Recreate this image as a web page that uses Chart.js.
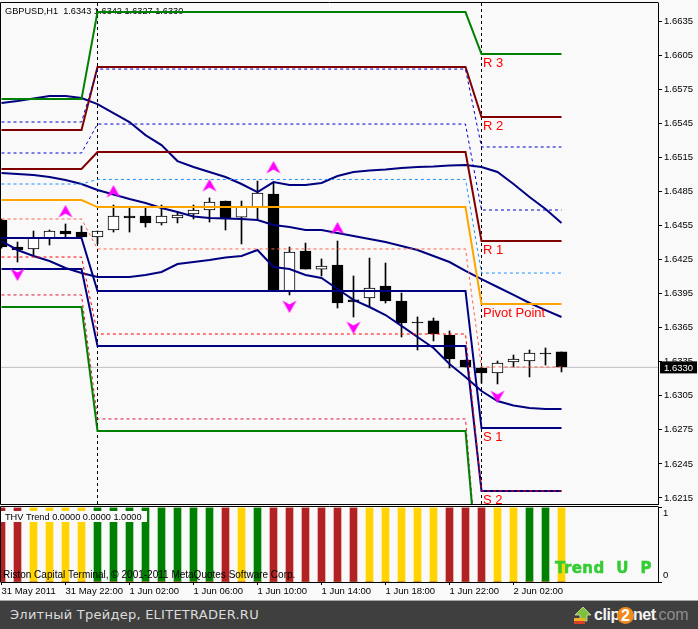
<!DOCTYPE html>
<html><head><meta charset="utf-8">
<style>
html,body{margin:0;padding:0;background:#f9f9f9;width:698px;height:629px;overflow:hidden}
canvas{position:absolute;left:0;display:block}
#footer{position:absolute;left:0;top:600px;width:698px;height:29px;background:#3f3f3f;border-top:1px solid #a8a8a8;box-sizing:border-box}
#footer span{position:absolute;white-space:nowrap}
</style>
<script src="https://cdn.jsdelivr.net/npm/chart.js@4"></script>
</head><body>
<canvas id="main" width="698" height="505" style="top:0"></canvas>
<canvas id="sub" width="698" height="95" style="top:505px"></canvas>
<div id="footer">
<span style="left:10px;top:6px;font:13px 'DejaVu Sans';letter-spacing:.25px;color:#dcdcdc">Элитный Трейдер, ELITETRADER.RU</span>
<svg style="position:absolute;left:573px;top:5px" width="20" height="20" viewBox="0 0 20 20"><path d="M10 1 L18 9 H14 V15 H7 V9 H2 Z" fill="#7cc23c" stroke="#e8f0c0" stroke-width=".7"/><rect x="1" y="12" width="11" height="3" fill="#f0b020"/><rect x="1" y="15" width="11" height="3" fill="#d8402c"/></svg>
<span style="left:594px;top:5px;font:bold 16px 'Liberation Sans';color:#f4f4f4;letter-spacing:-.4px">clip</span>
<span style="left:617px;top:6px;width:17px;height:17px;border-radius:50%;background:#f08a1c;text-align:center;font:bold 16px/17px 'Liberation Sans';color:#fff">2</span>
<span style="left:633px;top:5px;font:bold 16px 'Liberation Sans';color:#f4f4f4;letter-spacing:-.4px">net</span>
<span style="left:654px;top:5px;font:16px 'Liberation Sans';color:#8e8e8e">.com</span>
</div>
<script>
// ---------- bar data (one hourly bar per index) ----------
const barIndex = [0,1,2,3,4,5,6,7,8,9,10,11,12,13,14,15,16,17,18,19,20,21,22,23,24,25,26,27,28,29,30,31,32,33,34,35];
const opens  = [1.64598,1.64360,1.64343,1.64439,1.64501,1.64492,1.64448,1.64510,1.64633,1.64633,1.64572,1.64616,1.64651,1.64686,1.64765,1.64624,1.64712,1.64827,1.63973,1.64325,1.64166,1.64202,1.63894,1.63911,1.64017,1.63885,1.63700,1.63709,1.63585,1.63365,1.63295,1.63251,1.63348,1.63356,1.63427,1.63436];
const highs  = [1.64607,1.64404,1.64501,1.64510,1.64563,1.64545,1.64501,1.64730,1.64704,1.64704,1.64730,1.64668,1.64730,1.64792,1.64765,1.64765,1.64941,1.64932,1.64360,1.64395,1.64255,1.64413,1.64105,1.64263,1.64219,1.63955,1.63744,1.63735,1.63621,1.63365,1.63304,1.63356,1.63409,1.63453,1.63471,1.63436];
const lows   = [1.64351,1.64228,1.64281,1.64378,1.64439,1.64448,1.64387,1.64492,1.64492,1.64536,1.64554,1.64572,1.64607,1.64580,1.64510,1.64387,1.64598,1.63973,1.63938,1.64166,1.64105,1.63823,1.63744,1.63832,1.63867,1.63568,1.63453,1.63533,1.63295,1.63304,1.63163,1.63154,1.63304,1.63216,1.63321,1.63260];
const closes = [1.64360,1.64334,1.64439,1.64501,1.64475,1.64448,1.64501,1.64633,1.64616,1.64572,1.64633,1.64642,1.64686,1.64756,1.64616,1.64712,1.64836,1.63973,1.64316,1.64166,1.64193,1.63867,1.63876,1.63999,1.63885,1.63691,1.63691,1.63594,1.63374,1.63304,1.63251,1.63339,1.63374,1.63427,1.63418,1.63304];

// ---------- envelope curves ----------
const upperBand  = [1.65628,1.65646,1.65668,1.65690,1.65690,1.65672,1.65619,1.65540,1.65461,1.65346,1.65258,1.65117,1.65065,1.65021,1.64977,1.64915,1.64844,1.64932,1.64906,1.64906,1.64924,1.64985,1.65021,1.65034,1.65043,1.65056,1.65065,1.65069,1.65078,1.65082,1.65065,1.65021,1.64915,1.64800,1.64695,1.64572];
const middleBand = [1.65012,1.65003,1.64994,1.64977,1.64950,1.64915,1.64862,1.64822,1.64783,1.64748,1.64704,1.64668,1.64629,1.64616,1.64611,1.64607,1.64598,1.64554,1.64536,1.64510,1.64510,1.64483,1.64457,1.64431,1.64404,1.64369,1.64334,1.64281,1.64228,1.64149,1.64078,1.64008,1.63938,1.63867,1.63805,1.63744];
const lowerBand  = [1.64413,1.64334,1.64281,1.64237,1.64175,1.64131,1.64096,1.64096,1.64096,1.64114,1.64140,1.64210,1.64228,1.64246,1.64268,1.64281,1.64334,1.64184,1.64166,1.64114,1.64087,1.63990,1.63894,1.63832,1.63761,1.63665,1.63568,1.63471,1.63330,1.63216,1.63092,1.63004,1.62965,1.62943,1.62934,1.62934];

// ---------- pivot levels: bar indices where each level breaks ----------
const pivotBreaks = [0,5,6,29,30,35];
const r3Level = [1.65663,1.65663,1.66429,1.66429,1.66060,1.66060];
const r2Level = [1.65390,1.65390,1.65945,1.65945,1.65505,1.65505];
const r1Level = [1.65047,1.65047,1.65197,1.65197,1.64413,1.64413];
const ppLevel = [1.64774,1.64774,1.64712,1.64712,1.63858,1.63858];
const s1Level = [1.64439,1.64439,1.63973,1.63973,1.62766,1.62766];
const s2Level = [1.64166,1.64166,1.63488,1.63488,1.62212,1.62212];
const s3Level = [1.63832,1.63832,1.62740,1.62740,1.61120,1.61120];
const dashA   = [1.65461,1.65461,1.65927,1.65927,1.65241,1.65241];
const dashB   = [1.65188,1.65188,1.65443,1.65443,1.64686,1.64686];
const dashC   = [1.64915,1.64915,1.64955,1.64955,1.64131,1.64131];
const dashD   = [1.64607,1.64607,1.64343,1.64343,1.63304,1.63304];
const dashE   = [1.64272,1.64272,1.63594,1.63594,1.62212,1.62212];
const dashF   = [1.63938,1.63938,1.62846,1.62846,1.61120,1.61120];
const daySeparators = [6,30];

// ---------- arrows ----------
const arrowUpIndex = [4,7,13,17,21];
const arrowUpPrice = [1.64668,1.64844,1.64897,1.65056,1.64519];
const arrowDownIndex = [1,18,22,31];
const arrowDownPrice = [1.64122,1.63841,1.63656,1.63048];

// ---------- axes and captions ----------
const priceTicks = [1.6635,1.6605,1.6575,1.6545,1.6515,1.6485,1.6455,1.6425,1.6395,1.6365,1.6335,1.6305,1.6275,1.6245,1.6215];
const lastPrice = 1.6330;
const timeTickIndex = [0,4,8,12,16,20,24,28,32];
const timeTickLabels = ['31 May 2011','31 May 22:00','1 Jun 02:00','1 Jun 06:00','1 Jun 10:00','1 Jun 14:00','1 Jun 18:00','1 Jun 22:00','2 Jun 02:00'];
const headerText = 'GBPUSD,H1  1.6343 1.6342 1.6327 1.6330';
const levelLabels = ['R 3','R 2','R 1','Pivot Point','S 1','S 2'];
const levelLabelPrices = [1.66060,1.65505,1.64413,1.63858,1.62766,1.62212];

// ---------- THV Trend histogram (0/1 per bar) ----------
const trendRed   = [1,1,0,0,0,0,0,0,0,0,0,0,0,0,1,0,0,1,1,1,1,1,1,0,0,0,0,0,1,1,1,0,0,0,0,0];
const trendGold  = [0,0,1,1,1,1,0,0,0,0,0,0,0,0,0,1,0,0,0,0,0,0,0,1,1,1,1,1,0,0,0,1,1,0,0,1];
const trendGreen = [0,0,0,0,0,0,1,1,1,1,1,1,1,1,0,0,1,0,0,0,0,0,0,0,0,0,0,0,0,0,0,0,0,1,1,0];
const trendCaption = 'THV Trend 0.0000 0.0000 1.0000';
const terminalCaption = 'Riston Capital Terminal, © 2001-2011 MetaQuotes Software Corp.';
const trendWord = 'Trend U P';

const FONT = "'Liberation Sans'";
const Y_MAX = 1.66509, Y_MIN = 1.62097;
const X_MIN = -0.03125, X_MAX = 41.03125;

function arrow(up){
  const c = document.createElement('canvas'); c.width = 16; c.height = 16;
  const g = c.getContext('2d'); g.fillStyle = '#ff00ff';
  if(!up){ g.translate(0,16); g.scale(1,-1); }
  g.beginPath(); g.moveTo(8,1); g.lineTo(15,13.5); g.lineTo(8,9.5); g.lineTo(1,13.5); g.closePath(); g.fill();
  return c;
}
const pts = (xs,ys)=>xs.map((x,i)=>({x,y:ys[i]}));
function level(label,vals,color,width,order,dash){
  return {type:'line',label,data:pts(pivotBreaks,vals),borderColor:color,borderWidth:width,borderDash:dash||[],
    pointRadius:0,tension:0,order,fill:false};
}
function curve(label,vals,order){
  return {type:'line',label,data:pts(barIndex,vals),borderColor:'#000080',borderWidth:2,pointRadius:0,tension:0,order,fill:false};
}
const wicks = barIndex.map(i=>({x:i,y:[lows[i],highs[i]]}));
const bodies = barIndex.map(i=>({x:i,y:[Math.min(opens[i],closes[i]),Math.max(opens[i],closes[i])]}));
const noPad = s=>{s.paddingTop=0;s.paddingBottom=0;s.paddingLeft=0;s.paddingRight=0;};

const mainPlugin = {
  id:'mainDecor',
  beforeDatasetsDraw(c){
    const g=c.ctx; g.save(); g.fillStyle='#000'; g.font='9.2px '+FONT; g.textBaseline='middle'; g.textAlign='left';
    g.fillText(headerText,5,11); g.restore();
  },
  afterDraw(c){
    const g=c.ctx,y=c.scales.y,x=c.scales.x; g.save();
    g.strokeStyle='#000'; g.lineWidth=1; g.beginPath();
    g.moveTo(0.5,2.5); g.lineTo(658.5,2.5); g.moveTo(0.5,2.5); g.lineTo(0.5,504.5); g.lineTo(658.5,504.5); g.stroke();
    g.fillStyle='#ff0000'; g.font='13px '+FONT; g.textBaseline='middle'; g.textAlign='left';
    levelLabels.forEach((t,i)=>{ const py=y.getPixelForValue(levelLabelPrices[i])+9;
      if(py<504) g.fillText(t,x.getPixelForValue(30)+1.5,py); });
    const py=y.getPixelForValue(lastPrice);
    g.fillStyle='#000'; g.fillRect(660,py-6,37,12);
    g.fillStyle='#fff'; g.font='9.5px '+FONT; g.fillText(lastPrice.toFixed(4),664,py+.5);
    g.restore();
  }
};
new Chart(document.getElementById('main'),{
  type:'bar',
  data:{datasets:[
    {type:'line',label:'last',data:[{x:X_MIN,y:lastPrice},{x:X_MAX,y:lastPrice}],borderColor:'#c0c0c0',borderWidth:1,pointRadius:0,order:50},
    {label:'wick',data:wicks,backgroundColor:'#000',barThickness:1,grouped:false,order:40},
    {label:'body',data:bodies,backgroundColor:barIndex.map(i=>closes[i]>opens[i]?'#ffffff':'#000000'),borderColor:'#000',borderWidth:1,borderSkipped:false,barThickness:11,grouped:false,order:39},
    {type:'line',label:'sep1',data:[{x:daySeparators[0],y:Y_MIN},{x:daySeparators[0],y:Y_MAX}],borderColor:'#000',borderWidth:1,borderDash:[3,3],pointRadius:0,order:30},
    {type:'line',label:'sep2',data:[{x:daySeparators[1],y:Y_MIN},{x:daySeparators[1],y:Y_MAX}],borderColor:'#000',borderWidth:1,borderDash:[3,3],pointRadius:0,order:30},
    curve('upper',upperBand,20),curve('middle',middleBand,20),curve('lower',lowerBand,20),
    level('R3',r3Level,'#008000',2,18),level('R2',r2Level,'#800000',2,18),level('R1',r1Level,'#800000',2,18),
    level('PP',ppLevel,'#ffa500',2,18),level('S1',s1Level,'#000080',2,18),level('S2',s2Level,'#000080',2,18),level('S3',s3Level,'#008000',2,16),
    level('dA',dashA,'#0000cd',1,12,[3,3]),level('dB',dashB,'#0000cd',1,12,[3,3]),level('dC',dashC,'#1e90ff',1,12,[3,3]),
    level('dD',dashD,'#ff6347',1,12,[3,3]),level('dE',dashE,'#ff0000',1,12,[3,3]),level('dF',dashF,'#dc143c',1,17,[3,3]),
    {type:'line',label:'up',data:pts(arrowUpIndex,arrowUpPrice),showLine:false,pointStyle:arrow(true),pointRadius:8,order:5},
    {type:'line',label:'down',data:pts(arrowDownIndex,arrowDownPrice),showLine:false,pointStyle:arrow(false),pointRadius:8,order:5}
  ]},
  options:{
    responsive:false,animation:false,events:[],
    layout:{autoPadding:false,padding:{left:1,top:3,right:0,bottom:1}},
    plugins:{legend:{display:false},tooltip:{enabled:false}},
    scales:{
      x:{type:'linear',display:false,offset:false,min:X_MIN,max:X_MAX},
      y:{position:'right',min:Y_MIN,max:Y_MAX,
        afterFit(s){s.width=40;noPad(s);},
        afterBuildTicks(s){s.ticks=priceTicks.map(v=>({value:v}));},
        grid:{drawOnChartArea:false,drawTicks:true,tickLength:4,tickColor:'#000',tickWidth:1},
        border:{color:'#000',width:1},
        ticks:{padding:2,autoSkip:false,color:'#000',font:{family:'Liberation Sans',size:9.5},callback:v=>v.toFixed(4)}
      }
    }
  },
  plugins:[mainPlugin]
});

const subPlugin = {
  id:'subDecor',
  afterDatasetsDraw(c){
    const g=c.ctx; g.save(); g.textBaseline='middle'; g.textAlign='left';
    g.fillStyle='#f9f9f9'; g.fillRect(1,6,146,11);
    g.fillStyle='#000'; g.font='9.2px '+FONT; g.fillText(trendCaption,5,12);
    g.font='10px '+FONT; g.fillText(terminalCaption,3,70);
    g.fillStyle='#32cd32'; g.strokeStyle='#32cd32'; g.lineWidth=.5; g.font="bold 15px 'DejaVu Sans'"; g.letterSpacing='.4px'; g.wordSpacing='6px';
    g.fillText(trendWord,555,64.5); g.strokeText(trendWord,555,64.5);
    g.restore();
  },
  afterDraw(c){
    const g=c.ctx; g.save(); g.strokeStyle='#000'; g.lineWidth=1; g.beginPath();
    g.moveTo(.5,77.5); g.lineTo(.5,1.5); g.lineTo(658.5,1.5); g.stroke(); g.restore();
  }
};
const trendDs=(label,vals,color)=>({label,data:pts(barIndex,vals),backgroundColor:color,barThickness:7,grouped:false});
new Chart(document.getElementById('sub'),{
  type:'bar',
  data:{datasets:[trendDs('down',trendRed,'#b22222'),trendDs('flat',trendGold,'#ffd400'),trendDs('up',trendGreen,'#008000')]},
  options:{
    responsive:false,animation:false,events:[],
    layout:{autoPadding:false,padding:{left:1,top:2,right:0,bottom:0}},
    plugins:{legend:{display:false},tooltip:{enabled:false}},
    scales:{
      x:{type:'linear',offset:false,min:X_MIN,max:X_MAX,
        afterFit(s){s.height=18;noPad(s);},
        afterBuildTicks(s){s.ticks=timeTickIndex.map(v=>({value:v}));},
        grid:{drawOnChartArea:false,offset:false,tickLength:3,tickColor:'#000'},
        border:{color:'#000',width:1},
        ticks:{align:'start',padding:1,maxRotation:0,autoSkip:false,color:'#000',font:{family:'Liberation Sans',size:9.5},
          callback:(v)=>timeTickLabels[timeTickIndex.indexOf(v)]}
      },
      y:{position:'right',min:0,max:1.012,
        afterFit(s){s.width=40;noPad(s);},
        afterBuildTicks(s){s.ticks=[0,0.09,0.92,1].map(v=>({value:v}));},
        grid:{drawOnChartArea:false,tickLength:4,tickWidth:1,tickColor:ctx=>(ctx.tick&&(ctx.tick.value===0||ctx.tick.value===1))?'#000':'rgba(0,0,0,0)'},
        border:{color:'#000',width:1},
        ticks:{padding:1,autoSkip:false,color:'#000',font:{family:'Liberation Sans',size:9.5},
          callback:v=>v===0.92?'1':(v===0.09?'0':'')}
      }
    }
  },
  plugins:[subPlugin]
});
</script>
</body></html>
